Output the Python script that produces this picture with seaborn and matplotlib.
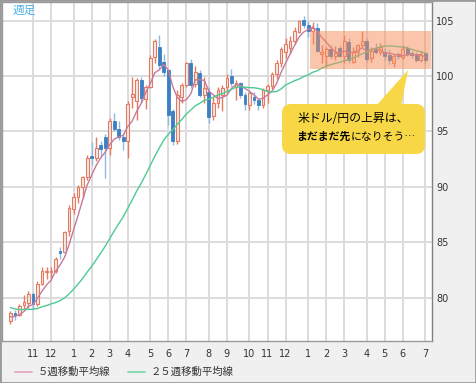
import numpy as np
import pandas as pd
import seaborn as sns
import matplotlib
matplotlib.use("Agg")
import matplotlib.pyplot as plt
import matplotlib.transforms as mtransforms
from matplotlib.patches import Rectangle, FancyBboxPatch, Polygon
from matplotlib.lines import Line2D
from matplotlib.text import Annotation

# ---------------- data (weekly USD/JPY, Oct 2012 - Jul 2014) ----------------
prior_closes = [81.6, 80.3, 79.8, 79.9, 79.0, 79.7, 78.4, 79.6, 78.7, 80.4, 79.8, 79.6,
                79.1, 78.5, 78.4, 78.4, 78.3, 79.6, 78.7, 78.3, 78.2, 78.4, 78.2, 77.9]

opens = [77.9, 78.6, 78.4, 79.3, 79.5, 80.3, 79.4, 81.2, 82.3, 82.3, 82.4, 84.2, 84.1, 86.0,
         88.0, 89.1, 90.0, 90.9, 92.8, 92.6, 93.8, 94.5, 93.5, 95.9, 95.2, 94.5, 94.1, 98.1,
         97.7, 99.6, 97.9, 99.0, 101.7, 102.6, 101.3, 100.5, 96.8, 94.1, 98.1, 99.2, 101.2,
         99.3, 100.3, 98.3, 98.6, 96.4, 97.6, 98.3, 99.0, 100.0, 99.0, 99.4, 98.3, 97.4, 98.1,
         97.8, 97.4, 98.7, 99.1, 100.2, 101.2, 102.2, 102.5, 103.2, 104.0, 105.1, 104.6, 104.1,
         104.3, 102.0, 101.8, 102.4, 101.8, 102.5, 101.8, 103.1, 101.3, 102.2, 102.8, 103.2,
         101.6, 102.5, 102.2, 102.2, 101.9, 101.2, 102.0, 101.7, 102.5, 102.1, 102.0, 101.4, 102.1]
highs = [78.8, 78.9, 79.4, 80.2, 80.6, 80.5, 81.5, 82.8, 82.8, 82.8, 83.7, 84.6, 86.0, 88.4,
         89.4, 90.2, 91.0, 92.9, 94.0, 94.5, 94.1, 94.8, 96.2, 96.7, 95.9, 94.9, 97.7, 99.9,
         99.8, 99.9, 99.2, 101.9, 103.3, 103.7, 102.0, 100.6, 97.0, 98.7, 99.4, 101.3, 101.5,
         100.9, 100.5, 99.9, 99.0, 98.2, 99.0, 99.2, 100.2, 100.6, 99.6, 99.5, 98.6, 98.6, 98.6,
         98.0, 98.9, 99.3, 100.4, 101.4, 102.6, 103.4, 103.6, 104.4, 105.1, 105.4, 105.0, 104.9,
         104.8, 102.8, 102.6, 102.8, 102.7, 102.8, 103.7, 103.4, 102.6, 102.9, 104.1, 103.4,
         102.6, 103.0, 103.0, 102.5, 102.4, 102.0, 102.2, 102.8, 102.7, 102.3, 102.2, 102.3, 102.2]
lows = [77.6, 78.0, 78.3, 79.0, 79.1, 78.9, 79.2, 81.1, 81.7, 81.8, 82.2, 83.5, 84.0, 85.6,
        87.5, 88.5, 89.0, 90.6, 92.0, 92.3, 92.8, 90.8, 92.9, 95.0, 94.2, 93.3, 92.6, 97.1,
        96.0, 97.6, 97.0, 98.9, 101.2, 100.6, 100.0, 95.6, 93.8, 93.9, 97.6, 99.0, 98.9,
        99.0, 98.1, 97.6, 95.8, 96.0, 97.1, 96.8, 98.6, 99.1, 97.8, 98.0, 96.9, 96.9, 97.5,
        96.9, 97.1, 97.6, 98.8, 99.7, 100.8, 101.6, 102.0, 102.9, 103.9, 104.3, 103.5, 102.9,
        102.2, 101.2, 100.8, 101.5, 101.4, 101.7, 101.2, 101.2, 101.2, 101.7, 102.6, 101.3,
        101.3, 102.0, 101.9, 101.4, 101.1, 100.8, 101.5, 101.5, 101.8, 101.6, 101.3, 101.3, 101.1]
closes = [78.6, 78.4, 79.2, 79.6, 80.3, 79.4, 81.2, 82.4, 82.4, 82.4, 83.5, 84.0, 85.9, 88.1,
          89.1, 90.0, 90.9, 92.6, 92.6, 93.5, 93.4, 93.5, 95.9, 95.2, 94.5, 94.1, 97.5, 98.4,
          99.6, 98.0, 99.0, 101.6, 103.2, 101.0, 100.4, 96.5, 94.1, 98.3, 99.2, 101.2, 99.2,
          100.4, 98.3, 98.9, 96.3, 97.6, 98.7, 98.9, 99.8, 99.4, 99.4, 98.3, 97.5, 98.5, 97.8,
          97.4, 98.7, 99.1, 100.2, 101.2, 102.4, 102.9, 103.2, 104.1, 105.0, 104.6, 104.1, 104.3,
          102.3, 102.2, 102.4, 101.8, 102.1, 101.8, 103.2, 101.4, 102.2, 102.8, 103.2, 101.5,
          102.3, 102.2, 102.6, 101.8, 101.4, 101.8, 101.8, 102.4, 102.0, 101.9, 101.4, 101.9, 101.4]

month_start_idx = [5, 9, 14, 18, 22, 26, 31, 35, 39, 44, 48, 53, 57, 61, 66, 70, 74, 79, 83, 87, 92]
month_labels = ["11", "12", "1", "2", "3", "4", "5", "6", "7", "8", "9", "10",
                "11", "12", "1", "2", "3", "4", "5", "6", "7"]
y_ticks = [80, 85, 90, 95, 100, 105]
legend_labels = ["５週移動平均線", "２５週移動平均線"]

# ---------------- frame ----------------
n = len(closes)
idx = np.arange(n)
o = np.array(opens); h = np.array(highs); l = np.array(lows); c = np.array(closes)
all_c = pd.Series(prior_closes + closes)
ma5 = all_c.rolling(5).mean().to_numpy()[len(prior_closes):]
ma25 = all_c.rolling(25).mean().to_numpy()[len(prior_closes):]
df = pd.DataFrame({"idx": idx, "ma5": ma5, "ma25": ma25})

W, H = 476, 383
sns.set_theme(style="white")
plt.rcParams["font.family"] = ["DejaVu Sans", "Noto Sans CJK JP"]
JP = ["Noto Sans CJK JP", "DejaVu Sans"]

fig = plt.figure(figsize=(W / 100, H / 100), dpi=100, facecolor="#f0f0f0")
ax = fig.add_axes([2 / W, 1 - 341 / H, 430 / W, 339 / H])
ax.set_facecolor("white")

# pixel transform (origin top-left)
pt = mtransforms.Affine2D().scale(1, -1).translate(0, H)

# grid
ax.set_xticks(month_start_idx)
ax.set_xticklabels(month_labels)
ax.set_yticks(y_ticks)
ax.grid(True, color="#dcdcdc", lw=1.4, zorder=0)
ax.set_axisbelow(True)

# candles
up = c >= o
bw = 0.62
ax.vlines(idx[up], l[up], h[up], color="#e6795f", lw=1, zorder=3)
ax.bar(idx[up], np.maximum(c[up] - o[up], 0.08), bottom=o[up], width=bw,
       facecolor="#ececec", edgecolor="#e6795f", lw=0.8, zorder=4)
dn = ~up
ax.vlines(idx[dn], l[dn], h[dn], color="#8cbbe2", lw=1, zorder=3)
ax.bar(idx[dn], np.maximum(o[dn] - c[dn], 0.08), bottom=c[dn], width=bw,
       facecolor="#3a80c2", edgecolor="#3a80c2", lw=0.6, zorder=4)

# moving averages
sns.lineplot(data=df, x="idx", y="ma5", ax=ax, color="#c47a9e", lw=1.0, zorder=5, legend=False)
sns.lineplot(data=df, x="idx", y="ma25", ax=ax, color="#4ccb92", lw=1.0, zorder=5, legend=False)

ax.set_xlim(-1.87, 93.47)
ax.set_ylim(76.08, 106.68)
ax.set_xlabel("")
ax.set_ylabel("")

ax.yaxis.tick_right()
ax.tick_params(axis="y", length=0, pad=3, labelsize=7, colors="#333333")
ax.tick_params(axis="x", length=0, pad=6, labelsize=7, colors="#333333")
for s in ax.spines.values():
    s.set_visible(True)
    s.set_color("#9a9a9a")
    s.set_linewidth(1)
ax.spines["right"].set_color("#808080")

# highlight box over the recent range
ax.add_patch(Rectangle((66.42, 100.63), 93.25 - 66.42, 104.06 - 100.63,
                       facecolor="#f98d5b", alpha=0.5, edgecolor="none", zorder=6))

# callout
fig.add_artist(Polygon([(376, 106), (408, 70), (401, 106)], closed=True,
                       transform=pt, facecolor="#f8d747", edgecolor="none", zorder=10))
fig.add_artist(FancyBboxPatch((282, 104), 143, 50, boxstyle="round,pad=0,rounding_size=9",
                              transform=pt, facecolor="#f8d747", edgecolor="none", zorder=10))
fig.text(298, 118, "米ドル/円の上昇は、", transform=pt, family=JP, fontsize=8.6,
         va="center", ha="left", color="black", zorder=11)
t2 = fig.text(296, 137, "まだまだ先", transform=pt, family=JP, fontsize=7.8,
              fontweight="bold", va="center", ha="left", color="black", zorder=11)
ann = Annotation("になりそう…", xy=(1, 0.5), xycoords=t2, va="center", ha="left",
                 family=JP, fontsize=7.8, color="black", annotation_clip=False)
ann.set_zorder(12)
fig.add_artist(ann)

# 週足 label
fig.text(13, 10, "週足", transform=pt, family=JP, fontsize=8.5, color="#4ab2e8",
         va="center", ha="left", zorder=11)

# legend
fig.add_artist(Line2D([15, 32], [372, 372], transform=pt, color="#e3a8c3", lw=1.3))
fig.text(38, 372, legend_labels[0], transform=pt, family=JP, fontsize=7.5,
         color="#333333", va="center", ha="left")
fig.add_artist(Line2D([128, 145], [372, 372], transform=pt, color="#7fd8b0", lw=1.3))
fig.text(151, 372, legend_labels[1], transform=pt, family=JP, fontsize=7.5,
         color="#333333", va="center", ha="left")

# outer border
fig.add_artist(Rectangle((0, 0), 1, 1, transform=fig.transFigure, fill=False,
                         edgecolor="#9a9a9a", lw=2))

fig.savefig("out.png", dpi=100, facecolor=fig.get_facecolor())
